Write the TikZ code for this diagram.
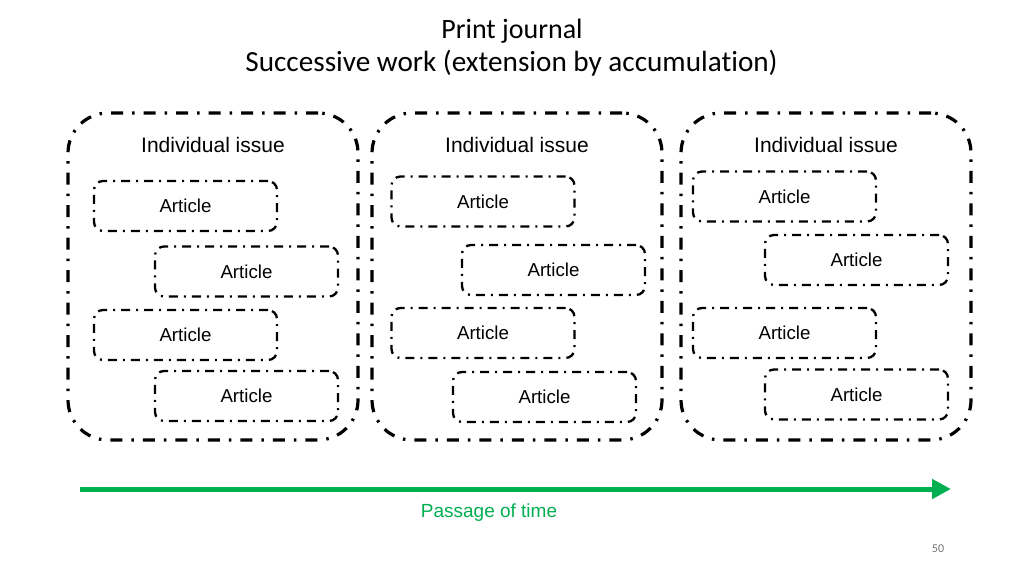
\documentclass[tikz,border=0pt]{standalone}
\usepackage{fontspec}
\setmainfont{Liberation Sans}
\newfontfamily\calib[Ligatures=NoCommon]{Carlito}
\usetikzlibrary{arrows.meta}
\definecolor{tgreen}{RGB}{0,176,80}
\begin{document}
\begin{tikzpicture}[x=1pt,y=-1pt,
  issuebox/.style={draw, line width=3.2pt, rounded corners=40pt,
    dash pattern=on 12pt off 9pt on 2.5pt off 9pt,
    minimum width=290pt, minimum height=327pt, inner sep=0pt},
  artbox/.style={draw, line width=2.3pt, rounded corners=9pt,
    dash pattern=on 9pt off 6pt on 2pt off 6pt,
    minimum width=183pt, minimum height=50pt, inner sep=0pt,
    font=\fontsize{18.7}{22}\selectfont},
  issuelabel/.style={font=\fontsize{21}{24}\selectfont, inner sep=0pt},
  txt/.style={inner sep=0pt}
]
\useasboundingbox[fill=white] (0,0) rectangle (1024,576);

\node[txt, font=\calib\fontsize{28}{32}\selectfont] (title) at (512,31) {Print journal};
\node[txt, font=\calib\fontsize{29.2}{33}\selectfont] (subtitle) at (511.5,63.5) {Successive work (extension by accumulation)};

% issue boxes
\node[issuebox] (i1) at (213,276.5) {};
\node[issuebox] (i2) at (517,276.5) {};
\node[issuebox] (i3) at (826,276.5) {};
\node[issuelabel] (l1) at (213,145) {Individual issue};
\node[issuelabel] (l2) at (517,145) {Individual issue};
\node[issuelabel] (l3) at (826,145) {Individual issue};

% articles issue 1
\node[artbox] (a11) at (185.5,206) {Article};
\node[artbox] (a12) at (246.5,271.5) {Article};
\node[artbox] (a13) at (185.5,335) {Article};
\node[artbox] (a14) at (246.5,396) {Article};
% articles issue 2
\node[artbox] (a21) at (483,201.5) {Article};
\node[artbox] (a22) at (553.5,270) {Article};
\node[artbox] (a23) at (483,333) {Article};
\node[artbox] (a24) at (544.5,397) {Article};
% articles issue 3
\node[artbox] (a31) at (784.5,196.5) {Article};
\node[artbox] (a32) at (856.5,260) {Article};
\node[artbox] (a33) at (784.5,333) {Article};
\node[artbox] (a34) at (856.5,394.5) {Article};

% time arrow
\coordinate (t0) at (80,489);
\coordinate (t1) at (951,489);
\draw[tgreen, line width=5pt, -{Triangle[length=19pt,width=19pt]}] (t0) -- (t1);
\node[txt, text=tgreen, font=\fontsize{19}{22}\selectfont] (time) at (489,512.5) {Passage of time};

\node[txt, text=black!55, font=\calib\fontsize{12}{14}\selectfont] (page) at (938,549) {50};
\end{tikzpicture}
\end{document}
